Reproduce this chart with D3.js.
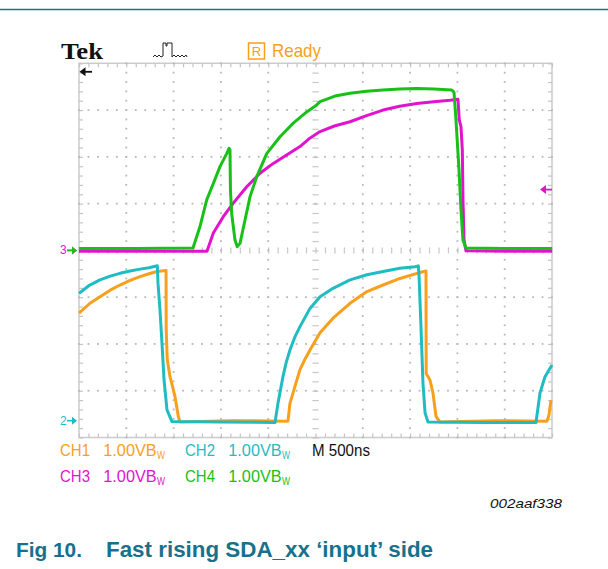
<!DOCTYPE html>
<html>
<head>
<meta charset='utf-8'>
<title>Fig 10. Fast rising SDA_xx input side</title>
<script src='https://cdn.jsdelivr.net/npm/d3@7'></script>
<style>
body{margin:0;background:#fff;}
svg{display:block;font-family:'Liberation Sans',Arial,sans-serif;}
.grat line{stroke:#c4c4c4;stroke-width:1.2;}
.grat .domain{display:none;}
</style>
</head>
<body>
<svg id='scope' width='608' height='569'></svg>
<script>
// scope settings: 500 ns/div, 1 V/div, 10 x 8 divisions
var timeDomain=[0,5000], divDomain=[-4,4];
var chNames=['CH1','CH2','CH3','CH4'];
var chScale=['1.00VB','1.00VB','1.00VB','1.00VB'];
var chGround=[-3.64,-3.64,0,0];      // ground marker, divisions
var trigLevel=1.3;                   // CH3 trigger level, V
var timebase='M 500ns';
// traces: [time ns, volts]
var ch1=[[0,2.30],[116,2.51],[222,2.65],[330,2.79],[433,2.90],[540,3.00],[645,3.08],[740,3.14],[825,3.19],
  [920,3.21],[922,1.94],[933,1.30],[962,0.94],[990,0.72],[1015,0.51],[1050,0.09],[1068,-0.03],
  [1600,0.0],[2209,-0.01],[2230,0.37],[2262,0.59],[2300,0.85],[2336,1.09],[2390,1.32],[2442,1.51],[2548,1.88],
  [2685,2.19],[2865,2.51],[3044,2.76],[3214,2.90],[3393,3.04],[3573,3.15],[3668,3.20],[3670,1.01],
  [3710,0.87],[3742,0.59],[3774,0.09],[3816,-0.03],[4400,0.0],[4947,-0.01],[4968,0.12],[4989,0.44]];
var ch2=[[0,2.72],[100,2.88],[222,3.01],[330,3.09],[433,3.15],[540,3.20],[645,3.24],[740,3.27],[828,3.31],
  [835,2.94],[856,2.37],[877,1.66],[899,0.87],[930,0.23],[983,-0.02],[1500,-0.03],[2072,-0.04],
  [2104,0.38],[2156,0.94],[2190,1.24],[2230,1.51],[2280,1.78],[2336,2.01],[2442,2.40],[2548,2.65],
  [2685,2.83],[2865,3.01],[3044,3.12],[3214,3.19],[3393,3.26],[3552,3.29],[3587,3.31],[3594,3.12],
  [3615,2.01],[3636,0.80],[3658,0.17],[3689,-0.03],[4300,-0.04],[4831,-0.04],[4873,0.59],
  [4926,0.94],[4979,1.12],[5000,1.19]];
var ch3=[[0,-0.02],[1200,-0.02],[1353,-0.02],[1420,0.37],[1525,0.72],[1631,1.01],[1773,1.36],[1913,1.65],
  [2054,1.86],[2195,2.04],[2336,2.22],[2440,2.40],[2548,2.54],[2700,2.66],[2865,2.75],[3040,2.88],
  [3214,3.00],[3390,3.08],[3570,3.14],[3750,3.18],[3922,3.21],[4006,3.23],[4020,2.79],[4038,2.64],
  [4052,2.15],[4059,1.08],[4070,0.22],[4091,-0.01],[4500,-0.02],[5000,-0.02]];
var ch4=[[0,0.04],[600,0.04],[1205,0.05],[1279,0.51],[1350,1.08],[1420,1.43],[1490,1.79],[1561,2.07],
  [1586,2.18],[1596,2.15],[1601,1.29],[1614,0.79],[1649,0.22],[1673,0.08],[1702,0.15],[1755,0.65],
  [1808,1.15],[1878,1.57],[1984,2.07],[2125,2.43],[2265,2.72],[2407,2.96],[2513,3.11],[2548,3.18],
  [2706,3.30],[2865,3.36],[3040,3.40],[3214,3.43],[3390,3.45],[3570,3.46],[3750,3.45],[3940,3.43],
  [3964,3.38],[3985,2.79],[4017,1.72],[4038,0.86],[4059,0.22],[4091,0.05],[4500,0.04],[5000,0.04]];
var chData=[ch1,ch2,ch3,ch4];
var chColors=['#f8a01c','#1fbcc2','#e014cc','#18c018'];

var svg=d3.select('#scope');
var x=d3.scaleLinear().domain(timeDomain).range([79,552]);
var y=d3.scaleLinear().domain(divDomain).range([437.5,63.3]);
var minorT=d3.range(0,5001,100), minorD=d3.range(-4,4.001,0.2);
var majorT=d3.range(500,5000,500).filter(function(t){return t!=2500;});
var majorD=[-3,-2,-1,1,2,3];

// rule at top of page
svg.append('line').attr('x1',0).attr('x2',608).attr('y1',9.5).attr('y2',9.5)
   .attr('stroke','#1f6f88').attr('stroke-width',1.3);

// graticule
var g=svg.append('g').attr('class','grat');
g.append('rect').attr('x',x(0)).attr('y',y(4)).attr('width',x(5000)-x(0)).attr('height',y(-4)-y(4))
 .attr('fill','none').attr('stroke','#cbcbcb').attr('stroke-width',1.5);
var ax=[[d3.axisBottom(x).tickValues(minorT).tickSize(4),'translate(0,'+y(4)+')'],
        [d3.axisTop(x).tickValues(minorT).tickSize(4),'translate(0,'+y(-4)+')'],
        [d3.axisRight(y).tickValues(minorD).tickSize(4),'translate('+x(0)+',0)'],
        [d3.axisLeft(y).tickValues(minorD).tickSize(4),'translate('+x(5000)+',0)'],
        [d3.axisTop(x).tickValues(minorT).tickSize(3),'translate(0,'+y(0)+')'],
        [d3.axisBottom(x).tickValues(minorT).tickSize(3),'translate(0,'+y(0)+')'],
        [d3.axisLeft(y).tickValues(minorD).tickSize(3),'translate('+x(2500)+',0)'],
        [d3.axisRight(y).tickValues(minorD).tickSize(3),'translate('+x(2500)+',0)']];
ax.forEach(function(a){
  g.append('g').attr('transform',a[1]).call(a[0].tickFormat(''));
});
var dots=[];
majorT.forEach(function(t){minorD.forEach(function(d){dots.push([x(t),y(d)]);});});
majorD.forEach(function(d){minorT.forEach(function(t){dots.push([x(t),y(d)]);});});
g.selectAll('rect.dot').data(dots).enter().append('rect').attr('class','dot')
 .attr('x',function(p){return p[0]-0.9;}).attr('y',function(p){return p[1]-0.9;})
 .attr('width',1.8).attr('height',1.8).attr('fill','#b8b8b8');

// traces
chData.forEach(function(data,i){
  var line=d3.line().x(function(d){return x(d[0]);})
                    .y(function(d){return y(d[1]+chGround[i]);});
  svg.append('path').datum(data).attr('d',line).attr('fill','none')
     .attr('stroke',chColors[i]).attr('stroke-width',3)
     .attr('stroke-linejoin','round');
});

// markers: trigger position (top left), trigger level (right), grounds (left)
svg.append('path').attr('d','M'+(x(0)+0.5)+','+(y(4)+8.5)+'l6,-4.5v9z').attr('fill','#111');
svg.append('line').attr('x1',x(0)+5).attr('x2',x(0)+13).attr('y1',y(4)+8.5).attr('y2',y(4)+8.5)
   .attr('stroke','#111').attr('stroke-width',1.8);
var ty=y(trigLevel+chGround[2]);
svg.append('path').attr('d','M'+(x(5000)-12)+','+ty+'l6,-4.5v9z').attr('fill',chColors[2]);
svg.append('line').attr('x1',x(5000)-7).attr('x2',x(5000)).attr('y1',ty).attr('y2',ty)
   .attr('stroke',chColors[2]).attr('stroke-width',1.8);
[[2,'3',-1],[3,'',0],[1,'2',0]].forEach(function(m){
  var i=m[0], gy=y(chGround[i]);
  if(m[1]) svg.append('text').attr('x',60).attr('y',gy+4.5+m[2]).attr('font-size',12)
               .attr('fill',chColors[i]).text(m[1]);
  svg.append('path').attr('d','M'+(x(0)-2)+','+gy+'l-5,-4v8z').attr('fill',chColors[i]);
  svg.append('line').attr('x1',x(0)-12).attr('x2',x(0)-5).attr('y1',gy).attr('y2',gy)
     .attr('stroke',chColors[i]).attr('stroke-width',1.6);
});

// header
svg.append('text').attr('x',61).attr('y',59).attr('font-family','Liberation Serif,serif')
   .attr('font-weight','bold').attr('font-size',23).attr('textLength',42)
   .attr('lengthAdjust','spacingAndGlyphs').attr('fill','#111').text('Tek');
svg.append('path').attr('fill','none').attr('stroke','#222').attr('stroke-width',1)
   .attr('d','M153,57l2,-2l2,2l2,-2l2,2l2,-1V43h3v3h1v-3h5V57l2,-2l2,2l2,-2l2,2l2,-2l2,2l2,-2l1,2');
svg.append('rect').attr('x',248.5).attr('y',43).attr('width',16).attr('height',16)
   .attr('fill','none').attr('stroke',chColors[0]).attr('stroke-width',1.5);
svg.append('text').attr('x',256.5).attr('y',56).attr('text-anchor','middle').attr('font-size',13)
   .attr('fill',chColors[0]).text('R');
svg.append('text').attr('x',272).attr('y',57.3).attr('font-size',19).attr('textLength',49)
   .attr('lengthAdjust','spacingAndGlyphs').attr('fill',chColors[0]).text('Ready');

// channel readout
var rows=[[0,60,456],[1,185,456],[2,60,482],[3,185,482]];
rows.forEach(function(r){
  var i=r[0], c=chColors[i];
  svg.append('text').attr('x',r[1]).attr('y',r[2]).attr('font-size',16.5).attr('fill',c)
     .attr('textLength',30).attr('lengthAdjust','spacingAndGlyphs').text(chNames[i]);
  svg.append('text').attr('x',r[1]+43.3).attr('y',r[2]).attr('font-size',16.5).attr('fill',c)
     .attr('textLength',53.4).attr('lengthAdjust','spacingAndGlyphs').text(chScale[i]);
  svg.append('text').attr('x',r[1]+97).attr('y',r[2]+3).attr('font-size',11).attr('fill',c)
     .attr('textLength',8).attr('lengthAdjust','spacingAndGlyphs').text('W');
});
svg.append('text').attr('x',312).attr('y',456).attr('font-size',16.5).attr('fill','#111')
   .attr('textLength',58).attr('lengthAdjust','spacingAndGlyphs').text(timebase);

// figure id and caption
svg.append('text').attr('x',490).attr('y',508).attr('font-size',13).attr('font-style','italic')
   .attr('fill','#111').attr('textLength',72).attr('lengthAdjust','spacingAndGlyphs').text('002aaf338');
svg.append('text').attr('x',16).attr('y',557).attr('font-size',21).attr('font-weight','bold')
   .attr('fill','#17718c').attr('textLength',66).attr('lengthAdjust','spacingAndGlyphs').text('Fig 10.');
svg.append('text').attr('x',106).attr('y',557).attr('font-size',22).attr('font-weight','bold')
   .attr('fill','#17718c').attr('textLength',327).attr('lengthAdjust','spacingAndGlyphs')
   .text('Fast rising SDA_xx \u2018input\u2019 side');
</script>
</body>
</html>
